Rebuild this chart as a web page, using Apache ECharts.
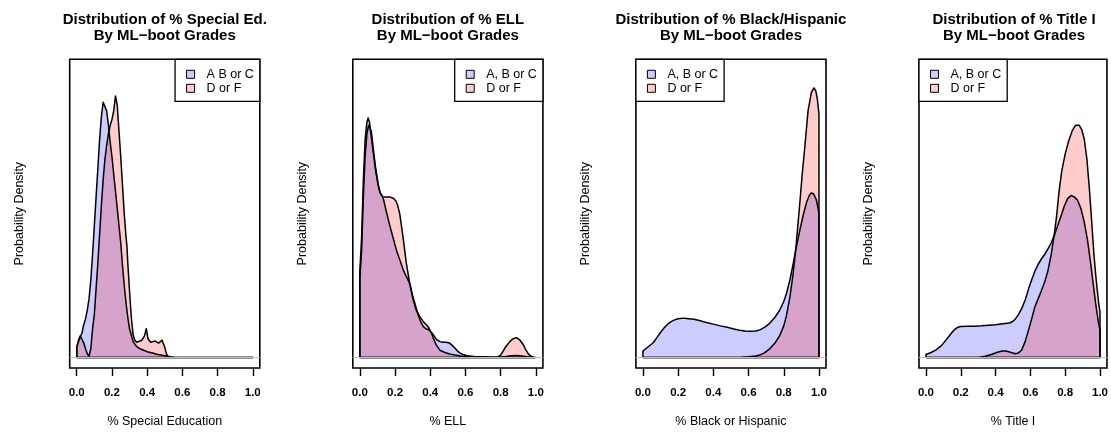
<!DOCTYPE html>
<html><head><meta charset="utf-8">
<script src="https://cdn.jsdelivr.net/npm/echarts@6/dist/echarts.min.js"></script>
<style>html,body{margin:0;padding:0;background:#fff}#c{width:1111px;height:433px}</style>
</head><body><div id="c"></div>
<script>
// ---------------- data ----------------
const xTicks = [0, 0.2, 0.4, 0.6, 0.8, 1.0];
const panelTitles = [
  'Distribution of % Special Ed.\nBy ML\u2212boot Grades',
  'Distribution of % ELL\nBy ML\u2212boot Grades',
  'Distribution of % Black/Hispanic\nBy ML\u2212boot Grades',
  'Distribution of % Title I\nBy ML\u2212boot Grades'
];
const xAxisNames = ['% Special Education', '% ELL', '% Black or Hispanic', '% Title I'];
const yAxisName = 'Probability Density';
const abcNames = ['A B or C', 'A, B or C', 'A, B or C', 'A, B or C'];
const dfName = 'D or F';
const legendSide = ['right', 'right', 'left', 'left'];

// density estimates: [x, density]
const specialEdABC = [[0,0.35],[0.01,0.55],[0.02,0.72],[0.03,0.85],[0.036,1.05],[0.04,1.15],[0.05,1.35],[0.06,1.65],[0.07,2.05],[0.08,2.7],[0.09,3.6],[0.10,4.6],[0.11,5.6],[0.12,6.6],[0.13,7.6],[0.14,8.4],[0.15,8.9],[0.155,8.96],[0.16,8.9],[0.17,8.6],[0.18,8.1],[0.19,7.5],[0.20,7.0],[0.21,6.4],[0.22,5.8],[0.23,5.2],[0.24,4.6],[0.25,4.0],[0.26,3.2],[0.27,2.5],[0.28,1.9],[0.29,1.4],[0.30,1.0],[0.32,0.55],[0.34,0.38],[0.36,0.3],[0.38,0.25],[0.40,0.2],[0.43,0.15],[0.46,0.1],[0.50,0.06],[0.53,0.02],[0.56,0],[0.7,0],[0.85,0],[1.0,0]];
const specialEdDF = [[0,0.35],[0.01,0.6],[0.02,0.75],[0.03,0.7],[0.04,0.5],[0.05,0.3],[0.06,0.12],[0.07,0.05],[0.08,0.3],[0.09,1.0],[0.10,1.5],[0.11,2.4],[0.12,3.3],[0.13,4.3],[0.14,5.3],[0.15,6.2],[0.16,6.9],[0.17,7.4],[0.18,7.8],[0.19,8.1],[0.20,8.3],[0.21,8.6],[0.22,9.12],[0.225,9.1],[0.23,8.8],[0.24,7.9],[0.25,7.0],[0.26,6.0],[0.27,5.0],[0.28,4.2],[0.285,3.9],[0.29,3.3],[0.30,2.3],[0.31,1.4],[0.32,0.8],[0.33,0.6],[0.34,0.53],[0.35,0.55],[0.37,0.6],[0.385,0.75],[0.395,1.0],[0.405,0.65],[0.42,0.53],[0.445,0.57],[0.465,0.5],[0.485,0.6],[0.50,0.35],[0.51,0.12],[0.52,0.02],[0.54,0],[0.7,0],[0.85,0],[1.0,0]];

const ellABC = [[0,3.0],[0.01,4.2],[0.02,6.2],[0.03,7.6],[0.04,8.2],[0.047,8.35],[0.055,8.2],[0.065,7.7],[0.076,7.15],[0.09,6.5],[0.104,6.0],[0.115,5.75],[0.125,5.65],[0.135,5.5],[0.15,5.1],[0.17,4.6],[0.19,4.15],[0.21,3.7],[0.23,3.35],[0.25,3.0],[0.27,2.75],[0.284,2.56],[0.30,2.15],[0.313,1.88],[0.33,1.5],[0.345,1.25],[0.36,1.08],[0.375,1.0],[0.39,0.97],[0.41,0.85],[0.436,0.62],[0.455,0.55],[0.473,0.53],[0.49,0.53],[0.51,0.5],[0.525,0.42],[0.54,0.33],[0.555,0.22],[0.57,0.15],[0.59,0.09],[0.61,0.06],[0.65,0.03],[0.7,0.02],[0.75,0.01],[0.8,0.01],[0.83,0.03],[0.86,0.06],[0.89,0.07],[0.92,0.05],[0.95,0.02],[0.98,0],[1.0,0]];
const ellDF = [[0,2.8],[0.01,3.7],[0.02,5.6],[0.03,7.0],[0.04,7.8],[0.05,8.1],[0.057,8.15],[0.065,7.9],[0.076,7.3],[0.09,6.6],[0.104,6.05],[0.115,5.75],[0.131,5.6],[0.15,5.6],[0.17,5.6],[0.19,5.55],[0.206,5.45],[0.215,5.3],[0.227,5.0],[0.246,4.16],[0.265,3.25],[0.284,2.56],[0.303,2.0],[0.32,1.65],[0.341,1.42],[0.36,1.25],[0.38,1.12],[0.39,1.05],[0.407,0.85],[0.42,0.62],[0.436,0.42],[0.455,0.25],[0.48,0.18],[0.51,0.12],[0.54,0.08],[0.57,0.05],[0.6,0.03],[0.65,0.01],[0.7,0],[0.78,0],[0.80,0.08],[0.814,0.22],[0.83,0.38],[0.852,0.55],[0.87,0.65],[0.89,0.69],[0.91,0.6],[0.928,0.45],[0.94,0.3],[0.956,0.13],[0.97,0.05],[0.99,0],[1.0,0]];

const blackHispABC = [[0,0.22],[0.03,0.37],[0.06,0.52],[0.08,0.7],[0.10,0.87],[0.12,1.03],[0.14,1.16],[0.16,1.25],[0.18,1.31],[0.20,1.35],[0.23,1.37],[0.26,1.35],[0.29,1.33],[0.32,1.29],[0.36,1.22],[0.40,1.16],[0.44,1.1],[0.48,1.05],[0.51,1.0],[0.55,0.95],[0.58,0.92],[0.61,0.91],[0.64,0.92],[0.665,0.96],[0.69,1.05],[0.72,1.19],[0.75,1.4],[0.777,1.65],[0.80,1.95],[0.815,2.22],[0.835,2.7],[0.853,3.25],[0.87,3.8],[0.89,4.4],[0.91,4.95],[0.93,5.42],[0.945,5.65],[0.957,5.74],[0.97,5.7],[0.985,5.5],[0.995,5.2],[1.0,5.0]];
const blackHispDF = [[0,0],[0.3,0],[0.55,0],[0.6,0.02],[0.64,0.05],[0.664,0.08],[0.69,0.16],[0.72,0.3],[0.75,0.5],[0.777,0.76],[0.80,1.1],[0.815,1.45],[0.835,2.1],[0.853,2.9],[0.87,3.9],[0.89,5.3],[0.905,6.4],[0.919,7.3],[0.938,8.6],[0.957,9.25],[0.972,9.4],[0.982,9.3],[0.99,9.05],[1.0,8.5]];

const titleIABC = [[0,0.1],[0.03,0.17],[0.06,0.27],[0.09,0.42],[0.117,0.62],[0.14,0.8],[0.164,0.97],[0.18,1.04],[0.20,1.08],[0.24,1.09],[0.28,1.09],[0.32,1.1],[0.36,1.12],[0.40,1.14],[0.44,1.17],[0.48,1.2],[0.50,1.26],[0.515,1.35],[0.532,1.5],[0.55,1.7],[0.57,2.0],[0.59,2.4],[0.607,2.7],[0.625,3.0],[0.645,3.25],[0.665,3.45],[0.683,3.6],[0.70,3.78],[0.72,4.0],[0.74,4.3],[0.758,4.62],[0.78,5.0],[0.796,5.3],[0.815,5.55],[0.834,5.65],[0.852,5.6],[0.871,5.48],[0.89,5.2],[0.909,4.74],[0.928,4.1],[0.947,3.25],[0.96,2.6],[0.975,1.88],[0.99,1.25],[1.0,0.95]];
const titleIDF = [[0,0],[0.3,0],[0.34,0.04],[0.38,0.11],[0.41,0.18],[0.44,0.22],[0.46,0.22],[0.48,0.19],[0.50,0.15],[0.515,0.13],[0.53,0.15],[0.55,0.26],[0.57,0.55],[0.59,0.97],[0.61,1.4],[0.626,1.77],[0.645,2.05],[0.664,2.34],[0.683,2.65],[0.70,3.0],[0.72,3.6],[0.735,4.2],[0.75,4.9],[0.765,5.8],[0.78,6.5],[0.80,7.1],[0.82,7.55],[0.84,7.9],[0.86,8.1],[0.868,8.14],[0.88,8.1],[0.895,7.95],[0.91,7.6],[0.925,6.9],[0.94,5.8],[0.956,4.4],[0.965,3.6],[0.975,2.9],[0.985,2.3],[0.994,1.8],[1.0,1.6]];

const abcCurves = [specialEdABC, ellABC, blackHispABC, titleIABC];
const dfCurves = [specialEdDF, ellDF, blackHispDF, titleIDF];

// ---------------- layout / style ----------------
const W = 1111;
const FONT = 'Liberation Sans, Arial, Helvetica, sans-serif';
const gridTop = 59.3, gridHeight = 314, gridWidth = 190.1;
const gridLeft = i => 69.7 + 283.1 * i;
const blueFill = 'rgba(0,0,255,0.2)', redFill = 'rgba(255,0,0,0.2)';
const blueSolid = '#ccccff', redSolid = '#ffcccc';

// close a density curve into a polygon down to the baseline
function polygon(curve) {
  const first = curve[0][0], last = curve[curve.length - 1][0];
  return [[first, 0]].concat(curve, [[last, 0], [first, 0]]);
}

const grid = [], xAxis = [], yAxis = [], series = [], title = [], legend = [];
for (let i = 0; i < 4; i++) {
  const L = gridLeft(i);
  grid.push({left: L, top: gridTop, width: gridWidth, height: gridHeight,
    show: true, borderColor: '#000', borderWidth: 1.6, backgroundColor: 'transparent'});
  xAxis.push({gridIndex: i, type: 'value', min: -0.04, max: 1.04, position: 'bottom',
    axisLine: {show: false, onZero: false},
    axisTick: {show: true, customValues: xTicks, length: 8, lineStyle: {color: '#000', width: 1.4}},
    axisLabel: {show: true, customValues: xTicks, formatter: v => v.toFixed(1), margin: 19,
      fontSize: 11.5, fontWeight: 'bold', color: '#000', fontFamily: FONT},
    splitLine: {show: false},
    name: xAxisNames[i], nameLocation: 'middle', nameGap: 47,
    nameTextStyle: {fontSize: 12.5, color: '#000', fontFamily: FONT}});
  yAxis.push({gridIndex: i, type: 'value', min: -0.37, max: 10.4,
    axisLine: {show: false, onZero: false}, axisTick: {show: false}, axisLabel: {show: false}, splitLine: {show: false},
    name: yAxisName, nameLocation: 'middle', nameGap: 44,
    nameTextStyle: {fontSize: 12.5, color: '#000', fontFamily: FONT}});
  series.push({name: abcNames[i], type: 'line', xAxisIndex: i, yAxisIndex: i,
    data: polygon(abcCurves[i]), showSymbol: false, symbol: 'none', silent: true,
    itemStyle: {color: blueSolid},
    lineStyle: {color: '#000', width: 1.5, join: 'round'},
    areaStyle: {color: blueFill, opacity: 1},
    markLine: {silent: true, symbol: ['none', 'none'], label: {show: false},
      lineStyle: {color: '#bebebe', type: 'solid', width: 1}, data: [{yAxis: 0}]}});
  series.push({name: dfName, type: 'line', xAxisIndex: i, yAxisIndex: i,
    data: polygon(dfCurves[i]), showSymbol: false, symbol: 'none', silent: true,
    itemStyle: {color: redSolid},
    lineStyle: {color: '#000', width: 1.5, join: 'round'},
    areaStyle: {color: redFill, opacity: 1}});
  title.push({text: panelTitles[i], left: L + gridWidth / 2, textAlign: 'center', top: 12, padding: 0,
    textStyle: {fontSize: 15, fontWeight: 'bold', lineHeight: 16, color: '#000', fontFamily: FONT}});
  const lg = {show: true, orient: 'vertical', top: gridTop, padding: [8, 6, 6, 11], itemGap: 0,
    itemWidth: 8, itemHeight: 8, icon: 'rect', selectedMode: false,
    borderColor: '#000', borderWidth: 1.3, backgroundColor: '#fff', borderRadius: 0,
    textStyle: {fontSize: 12.5, color: '#000', lineHeight: 14, padding: [0, 0, 0, 7], fontFamily: FONT},
    itemStyle: {borderColor: '#000', borderWidth: 1},
    data: [{name: abcNames[i], itemStyle: {color: blueSolid, borderColor: '#000', borderWidth: 1}},
           {name: dfName, itemStyle: {color: redSolid, borderColor: '#000', borderWidth: 1}}]};
  if (legendSide[i] === 'right') lg.right = W - (L + gridWidth); else lg.left = L;
  legend.push(lg);
}

const chart = echarts.init(document.getElementById('c'), null, {renderer: 'canvas'});
chart.setOption({
  animation: false,
  backgroundColor: '#fff',
  textStyle: {fontFamily: FONT},
  title, legend, grid, xAxis, yAxis, series
});
</script>
</body></html>
